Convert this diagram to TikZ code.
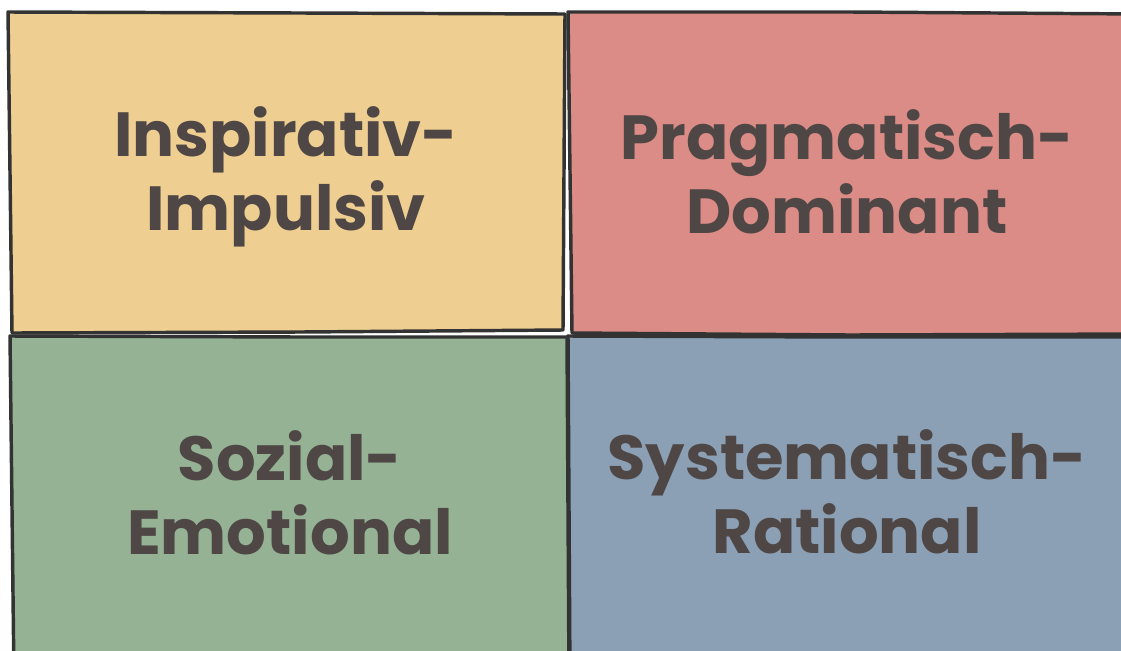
\documentclass[tikz,border=0pt]{standalone}
\usepackage{fontspec}
\setmainfont{Poppins}

\definecolor{quadyellow}{HTML}{EFCF91}
\definecolor{quadred}{HTML}{DB8C86}
\definecolor{quadgreen}{HTML}{95B295}
\definecolor{quadblue}{HTML}{8BA0B5}
\definecolor{outline}{HTML}{333333}
\definecolor{ink}{HTML}{4F4745}

\begin{document}
\begin{tikzpicture}[x=0.0265cm, y=-0.0265cm,
    quad/.style={draw=outline, line width=2.6pt, line join=round},
    quadtext/.style={text=ink, align=center, font=\fontsize{47}{56}\selectfont\bfseries}]
    \useasboundingbox (0,0) rectangle (1121,650);
    \clip (0,0) rectangle (1121,650);

    % Top left (yellow)
    \draw[quad, fill=quadyellow] (8,12) -- (300,13) -- (565,14) -- (563,330) -- (300,332) -- (12,333) -- cycle;
    % Top right (red)
    \draw[quad, fill=quadred] (568,12) -- (850,12) -- (1140,14) -- (1140,334) -- (850,335) -- (572,333) -- cycle;
    % Bottom left (green)
    \draw[quad, fill=quadgreen] (10,336) -- (300,337) -- (567,337) -- (569,680) -- (14,680) -- cycle;
    % Bottom right (blue)
    \draw[quad, fill=quadblue] (568,336) -- (850,337) -- (1140,337) -- (1140,680) -- (570,680) -- cycle;

    % Quadrant labels
    \node[quadtext] (inspirativ) at (286,177) {Inspirativ-\\Impulsiv};
    \node[quadtext] (pragmatisch) at (847,172) {Pragmatisch-\\Dominant};
    \node[quadtext] (sozial) at (290,493) {Sozial-\\Emotional};
    \node[quadtext] (systematisch) at (847,492) {Systematisch-\\Rational};
\end{tikzpicture}
\end{document}
